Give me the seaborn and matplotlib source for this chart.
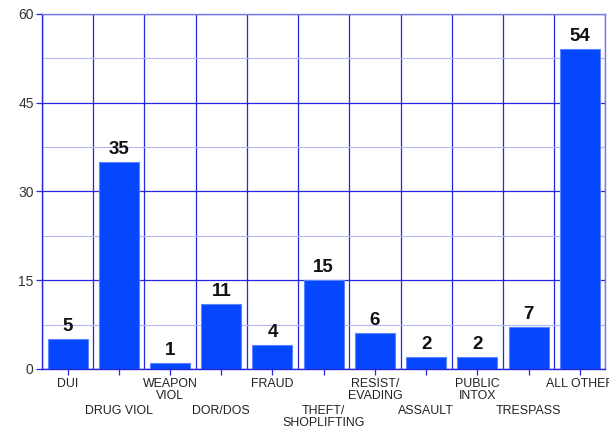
import numpy as np
import pandas as pd
import matplotlib
matplotlib.use('Agg')
import matplotlib.pyplot as plt
import seaborn as sns

# ── 数据 ──
categories = ['DUI', 'DRUG VIOL', 'WEAPON\nVIOL', 'DOR/DOS', 'FRAUD',
              'THEFT/\nSHOPLIFTING', 'RESIST/\nEVADING', 'ASSAULT',
              'PUBLIC\nINTOX', 'TRESPASS', 'ALL OTHER']
counts = [5, 35, 1, 11, 4, 15, 6, 2, 2, 7, 54]

BAR = '#0546ff'
LINE = '#2626e0'
MINOR = '#b4b8f4'

sns.set_style('white')
plt.rcParams['font.family'] = ['Liberation Sans', 'DejaVu Sans']

df = pd.DataFrame({'cat': categories, 'n': counts})

fig = plt.figure(figsize=(6.09, 4.32), dpi=100)
ax = fig.add_axes([0.069, 0.146, 0.925, 0.822])

sns.barplot(data=df, x='cat', y='n', color=BAR, saturation=1,
            width=0.78, edgecolor='#5a85ff', linewidth=0.8, ax=ax)

for c in ax.containers:
    ax.bar_label(c, fmt='%d', padding=3, fontsize=13.5, fontweight='bold',
                 color='#111111')

ax.set_xlim(-0.5, len(categories) - 0.5)
ax.set_ylim(0, 60)
ax.set_yticks([0, 15, 30, 45, 60])
ax.set_yticks(np.arange(0, 61, 7.5), minor=True)
ax.set_xticks(np.arange(-0.5, len(categories)), minor=True)
ax.set_axisbelow(True)

ax.grid(which='major', axis='y', color=LINE, linewidth=0.9)
ax.grid(which='minor', axis='y', color=MINOR, linewidth=0.8)
ax.grid(which='minor', axis='x', color=LINE, linewidth=0.9)
ax.grid(which='major', axis='x', visible=False)

ax.set_xlabel('')
ax.set_ylabel('')

ax.set_xticklabels(categories, fontsize=8.9, color='#222222', linespacing=1.0)
ax.tick_params(axis='x', which='major', bottom=True, direction='out',
               color=LINE, width=0.9, length=4.3, pad=2.2)
ax.tick_params(axis='y', which='major', left=True, direction='out',
               color=LINE, width=0.9, length=4, labelsize=10,
               labelcolor='#333333', pad=2)
ax.tick_params(which='minor', length=0)

# 交错标签：奇数位长刻度、标签下移
for i, t in enumerate(ax.xaxis.get_major_ticks()):
    if i % 2:
        t.tick1line.set_markersize(24.5)
        t.set_pad(21.7)

for s in ['left', 'bottom']:
    ax.spines[s].set_color(LINE)
    ax.spines[s].set_linewidth(1.0)
for s in ['top', 'right']:
    ax.spines[s].set_color('#7a7ae6')
    ax.spines[s].set_linewidth(1.0)

fig.savefig('out.png', dpi=100)
